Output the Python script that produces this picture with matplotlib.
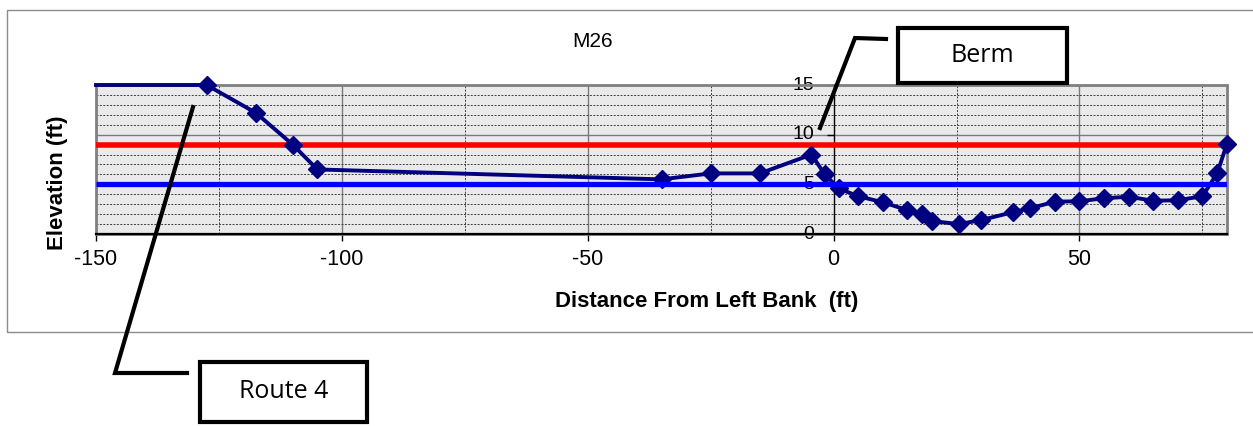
import numpy as np
import matplotlib.pyplot as plt
from matplotlib.patches import Rectangle
from matplotlib.lines import Line2D
from matplotlib.transforms import ScaledTranslation

plt.rcParams["axes.unicode_minus"] = False

# cross section M26
distance = [-150, -127.5, -117.5, -110, -105, -35, -25, -15, -4.5, -1.8, 1, 5, 10,
            15, 18, 20, 25.5, 30, 36.5, 40, 45, 50, 55, 60, 65, 70, 75, 78, 80]
elevation = [15, 15, 12.2, 9.0, 6.5, 5.5, 6.1, 6.1, 8.0, 6.0, 4.6, 3.8, 3.2,
             2.4, 2.0, 1.3, 1.0, 1.4, 2.2, 2.6, 3.25, 3.3, 3.6, 3.75, 3.35, 3.4, 3.8, 6.1, 9.1]
red_level = 9.0
blue_level = 5.0

x_major = [-150, -100, -50, 0, 50]
x_minor = [-125, -75, -25, 25, 75]
y_major = [0, 5, 10, 15]
y_minor = list(range(0, 16))

title = "M26"
xlabel = "Distance From Left Bank  (ft)"
ylabel = "Elevation (ft)"
callouts = ["Berm", "Route 4"]

W, H = 1253, 426
font = "Liberation Sans"


def fp(x, y):
    """pixel position -> figure fraction"""
    return x / W, 1 - y / H


fig = plt.figure(figsize=(W / 100, H / 100), dpi=100)
fig.patch.set_facecolor("white")

# chart area border
x0, y0 = fp(7, 332)
fig.add_artist(Rectangle((x0, y0), 1.1, (332 - 10) / H, transform=fig.transFigure,
                         fill=False, edgecolor="#8c8c8c", lw=1.0))

l, b = fp(96, 234)
ax = fig.add_axes([l, b, (1227 - 96) / W, (234 - 85) / H])
ax.set_facecolor("#eaeaea")
ax.set_xlim(-150, 80)
ax.set_ylim(0, 15)

ax.set_xticks(x_major)
ax.set_xticks(x_minor, minor=True)
ax.set_yticks(y_major)
ax.set_yticks(y_minor, minor=True)
ax.set_axisbelow(True)
ax.grid(which="major", color="#7a7a7a", lw=1.0, ls="-")
ax.grid(which="minor", color="#3c3c3c", lw=0.7, ls=(0, (2, 1.5)))

for s in ["top", "right"]:
    ax.spines[s].set_visible(False)
ax.spines["left"].set_position(("data", 0))
ax.spines["left"].set_color("black")
ax.spines["left"].set_linewidth(0.9)
ax.spines["bottom"].set_color("black")
ax.spines["bottom"].set_linewidth(1.6)

# plot area frame
ax.add_patch(Rectangle((0, 0), 1, 1, transform=ax.transAxes, fill=False,
                       edgecolor="#808080", lw=2.0, clip_on=False, zorder=2.4))

ax.tick_params(which="minor", length=0)
ax.tick_params(axis="x", which="major", length=5, width=1, direction="out", pad=6,
               labelsize=15.5)
ax.tick_params(axis="y", which="major", length=5, width=1, direction="out",
               labelleft=False)
for lab in ax.get_xticklabels():
    lab.set_fontfamily(font)

# y tick labels sit left of the axis line at x = 0
off = ax.transData + ScaledTranslation(-14 / 72, 0, fig.dpi_scale_trans)
for v in y_major:
    ax.text(0, v, str(v), transform=off, ha="right", va="center", fontsize=14,
            family=font, zorder=1)

ax.hlines(red_level, -150, max(distance), color="#ff0000", lw=4, zorder=3)
ax.plot(distance, elevation, color="#000080", lw=2.8, marker="D", ms=9,
        markevery=list(range(1, len(distance))), clip_on=False, zorder=4)
ax.hlines(blue_level, -150, max(distance), color="#0000ff", lw=3.8, zorder=5)

# titles
fig.text(*fp(593, 47), title, ha="center", va="baseline", fontsize=15, family=font)
fig.text(*fp(707, 307), xlabel, ha="center", va="baseline", fontsize=16,
         fontweight="bold", family=font)
fig.text(*fp(57, 183), ylabel, ha="center", va="center", rotation=90, fontsize=16,
         fontweight="bold", family=font)

# callouts
for pts in ([(886, 39), (855, 38), (820, 128)],
            [(187, 373), (115, 373), (193, 107)]):
    xs, ys = zip(*[fp(px, py) for px, py in pts])
    fig.add_artist(Line2D(xs, ys, transform=fig.transFigure, color="black",
                          lw=3, solid_joinstyle="miter", zorder=10))

for label, (bx0, by0, bx1, by1) in zip(callouts, [(898, 28, 1067, 83),
                                                  (200, 362, 367, 422)]):
    rx, ry = fp(bx0, by1)
    fig.add_artist(Rectangle((rx, ry), (bx1 - bx0) / W, (by1 - by0) / H,
                             transform=fig.transFigure, facecolor="white",
                             edgecolor="black", lw=3, zorder=10))
    fig.text(*fp((bx0 + bx1) / 2, (by0 + by1) / 2), label, ha="center", va="center",
             fontsize=18, family="Open Sans", zorder=11)

fig.savefig("out.png", dpi=100)
